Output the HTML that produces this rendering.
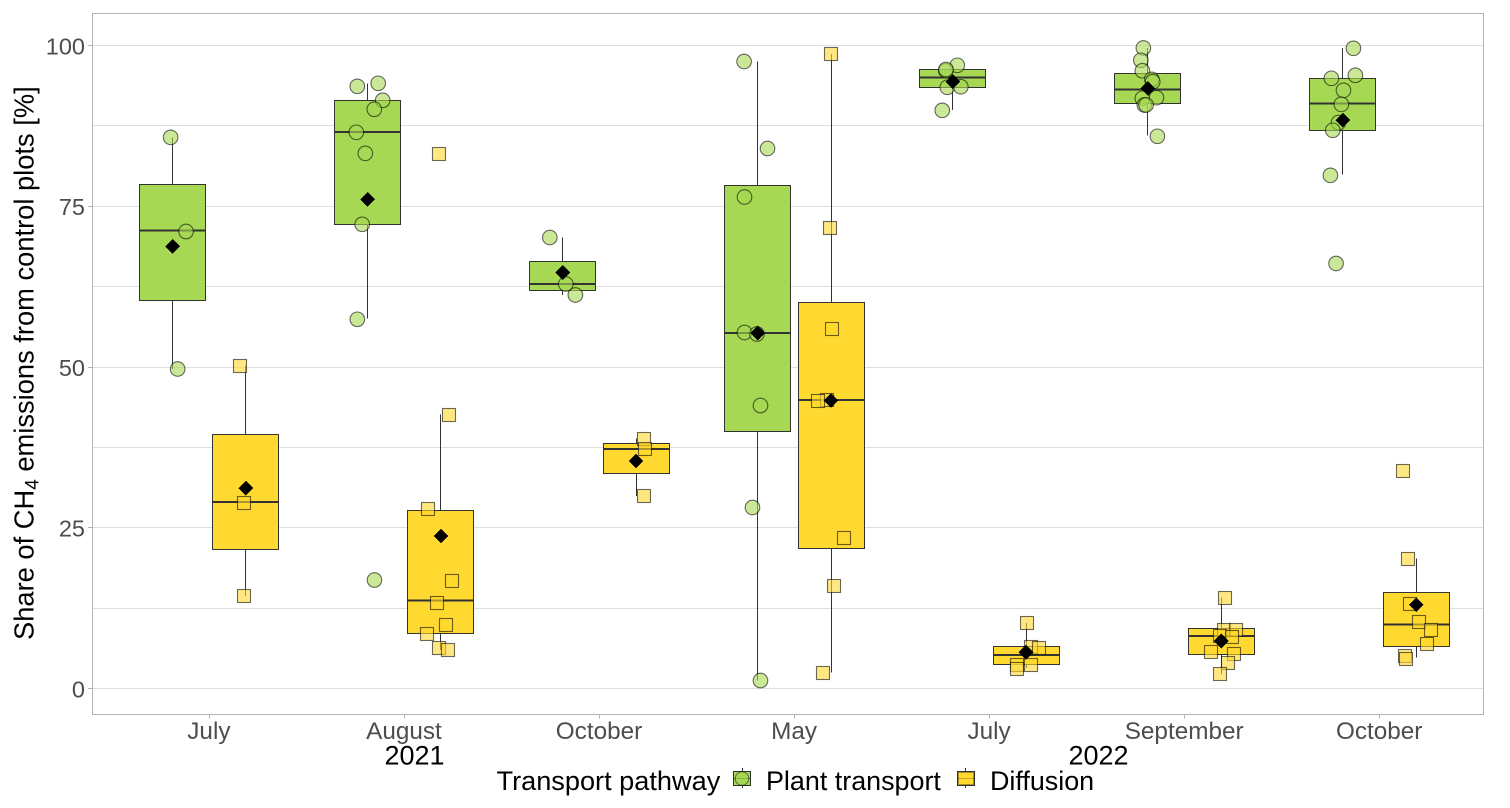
<!DOCTYPE html>
<html>
<head>
<meta charset="utf-8">
<title>Share of CH4 emissions by transport pathway</title>
<style>
html,body{margin:0;padding:0;background:#fff;}
svg{display:block;font-family:"Liberation Sans",Arial,sans-serif;}
</style>
</head>
<body>
<svg id="chart" xmlns="http://www.w3.org/2000/svg" width="1510" height="808" viewBox="0 0 1510 808">
  <rect x="0" y="0" width="1510" height="808" fill="#ffffff"/>
  <g id="grid"></g>
  <g id="marks"></g>
  <rect x="92.5" y="13.5" width="1391" height="701" fill="none" stroke="#b3b3b3" stroke-width="1.3" shape-rendering="crispEdges"/>
  <g id="axes"></g>
  <text transform="translate(33.3,640) rotate(-90)" font-size="27.3" fill="#000">Share of CH<tspan font-size="19" dy="5">4</tspan><tspan dy="-5"> emissions from control plots [%]</tspan></text>
  <text x="414.5" y="764.5" font-size="27" text-anchor="middle" fill="#000">2021</text>
  <text x="1098.5" y="764.5" font-size="27" text-anchor="middle" fill="#000">2022</text>
  <g>
    <text x="496.5" y="790" font-size="27.15" fill="#000">Transport pathway</text>
    <g>
      <line x1="742.5" x2="742.5" y1="768" y2="788" stroke="#333" stroke-width="1.3" shape-rendering="crispEdges"/>
      <rect x="733.5" y="771.5" width="17" height="14" fill="#a6d854" stroke="#333" stroke-width="1.3" shape-rendering="crispEdges"/>
      <line x1="733.5" x2="750.5" y1="778.5" y2="778.5" stroke="#333" stroke-width="1.3" opacity="0.6" shape-rendering="crispEdges"/>
      <circle cx="742" cy="778.5" r="6.8" fill="#a6d854" fill-opacity="0.6" stroke="#000" stroke-opacity="0.5" stroke-width="1"/>
    </g>
    <text x="766" y="790" font-size="26.9" fill="#000">Plant transport</text>
    <g>
      <line x1="965.5" x2="965.5" y1="768" y2="788" stroke="#333" stroke-width="1.3" shape-rendering="crispEdges"/>
      <rect x="957.5" y="771.5" width="17" height="14" fill="#ffd92f" stroke="#333" stroke-width="1.3" shape-rendering="crispEdges"/>
      <line x1="957.5" x2="974.5" y1="778.5" y2="778.5" stroke="#333" stroke-width="1.3" opacity="0.7" shape-rendering="crispEdges"/>
      <rect x="958.5" y="772.5" width="15" height="12" fill="#ffd92f" fill-opacity="0.6" stroke="#000" stroke-opacity="0.35" stroke-width="1" shape-rendering="crispEdges"/>
    </g>
    <text x="990" y="790" font-size="26.9" fill="#000">Diffusion</text>
  </g>
</svg>
<script>
const months = ['July','August','October','May','July','September','October'];
const yMajorTicks = [0,25,50,75,100];
const yMinorTicks = [12.5,37.5,62.5,87.5];

const plantWhiskerLow  = [49.69,57.57,61.20,1.24,90.00,86.00,79.91];
const plantQ1          = [60.37,72.19,61.90,39.97,93.50,91.01,86.81];
const plantMedian      = [71.20,86.55,62.91,55.29,94.99,93.13,90.95];
const plantQ3          = [78.41,91.48,66.41,78.23,96.30,95.67,94.90];
const plantWhiskerHigh = [85.72,94.12,70.14,97.51,96.92,99.61,99.61];
const plantMean        = [68.77,76.08,64.70,55.29,94.37,93.34,88.41];
const plantPoints = [
  [85.72,71.07,49.69],
  [93.65,94.12,91.48,90.08,86.50,83.23,72.19,57.42,16.87],
  [70.14,62.91,61.20],
  [97.51,83.98,76.44,55.37,55.13,44.01,28.15,1.24],
  [89.92,96.92,96.08,96.27,93.50,93.59],
  [99.61,97.70,96.08,94.74,94.37,91.79,91.88,90.75,90.75,85.88],
  [99.56,95.37,94.90,93.03,90.85,88.00,86.81,79.81,66.10]
];
const plantJitter = [
  [-0.010,0.069,0.026],
  [-0.053,0.054,0.077,0.034,-0.058,-0.012,-0.028,-0.053,0.035],
  [-0.066,0.016,0.065],
  [-0.070,0.050,-0.068,-0.068,-0.004,0.014,-0.027,0.014],
  [-0.054,0.023,-0.036,-0.035,-0.028,0.041],
  [-0.023,-0.036,-0.028,0.020,0.025,-0.028,0.044,-0.018,-0.009,0.049],
  [0.054,0.064,-0.059,0.003,-0.008,-0.023,-0.052,-0.064,-0.035]
];

const diffusionWhiskerLow  = [14.39,5.99,29.94,2.49,3.19,2.26,4.79];
const diffusionQ1          = [21.62,8.55,33.44,21.85,3.76,5.32,6.56];
const diffusionMedian      = [29.00,13.69,37.25,44.87,5.21,8.16,9.92];
const diffusionQ3          = [39.58,27.76,38.18,60.03,6.56,9.36,14.90];
const diffusionWhiskerHigh = [50.23,42.61,38.88,98.68,10.19,14.18,20.22];
const diffusionMean        = [31.18,23.72,35.38,44.79,5.63,7.39,13.03];
const diffusionPoints = [
  [50.23,29.00,14.39],
  [83.28,42.61,27.99,16.87,13.45,9.88,8.63,6.45,5.99],
  [38.88,37.25,29.94],
  [98.68,71.77,56.06,45.02,44.76,23.56,16.02,2.49],
  [10.19,6.56,6.41,3.76,3.76,3.08],
  [14.18,9.25,9.25,8.32,8.01,5.83,5.37,3.97,2.26],
  [33.83,20.22,13.25,10.45,9.25,7.03,5.16,4.59]
];
const diffusionJitter = [
  [-0.033,-0.012,-0.012],
  [-0.013,0.038,-0.067,0.054,-0.021,0.021,-0.072,-0.010,0.033],
  [0.041,0.046,0.038],
  [-0.003,-0.010,0.003,-0.021,-0.072,0.064,0.015,-0.046],
  [0.004,0.021,0.062,0.023,-0.051,-0.051],
  [0.019,0.014,0.072,-0.007,0.051,-0.053,0.065,0.031,-0.007],
  [-0.068,-0.043,-0.036,0.014,0.075,0.055,-0.062,-0.053]
];

const NS = 'http://www.w3.org/2000/svg';
const catStep = 195.05;
const xScale = k => 209.2 + catStep * k;
const yScale = v => 688.5 - 6.43 * v;
const snap = p => Math.round(p - 0.5) + 0.5;

function make(parent, tag, attrs) {
  const el = document.createElementNS(NS, tag);
  Object.keys(attrs).forEach(k => el.setAttribute(k, attrs[k]));
  parent.appendChild(el);
  return el;
}

const grid = document.getElementById('grid');
const axes = document.getElementById('axes');
const marks = document.getElementById('marks');

yMinorTicks.forEach(v => {
  const el = make(grid, 'line', {x1:92.5, x2:1483.5, y1:snap(yScale(v)), y2:snap(yScale(v)), stroke:'#dedede', 'stroke-width':1.1, 'shape-rendering':'crispEdges'});
  
  
});
yMajorTicks.forEach(v => {
  const gl = make(grid, 'line', {x1:92.5, x2:1483.5, y1:snap(yScale(v)), y2:snap(yScale(v)), stroke:'#dedede', 'stroke-width':1.3, 'shape-rendering':'crispEdges'});
  
  
  const tk = make(axes, 'line', {x1:88, x2:92.5, y1:snap(yScale(v)), y2:snap(yScale(v)), stroke:'#b3b3b3', 'stroke-width':1.3, 'shape-rendering':'crispEdges'});
  
  
  const tx = make(axes, 'text', {x:85, y:yScale(v) + 8.8, 'text-anchor':'end', 'font-size':23.5, fill:'#4d4d4d'});
  
  
  tx.textContent = v;
});
months.forEach((m, k) => {
  const tk = make(axes, 'line', {x1:snap(xScale(k)), x2:snap(xScale(k)), y1:714.5, y2:718.5, stroke:'#b3b3b3', 'stroke-width':1.3, 'shape-rendering':'crispEdges'});
  
  
  const tx = make(axes, 'text', {x:xScale(k) - 0.3, y:739, 'text-anchor':'middle', 'font-size':24.3, fill:'#4d4d4d'});
  
  
  tx.textContent = m;
});

function drawGroup(k, offset, color, shape, s) {
  const cx = xScale(k) + offset;
  const g = make(marks, 'g', {});
  
  
  const lineX = snap(cx);
  const whisker = make(g, 'line', {x1:lineX, x2:lineX, y1:yScale(s.whHigh[k]), y2:yScale(s.whLow[k]), stroke:'#333333', 'stroke-width':1.3, 'shape-rendering':'crispEdges'});
  
  
  const top = yScale(s.q3[k]);
  const bottom = yScale(s.q1[k]);
  const box = make(g, 'rect', {x:snap(cx - 33), y:snap(top), width:66, height:Math.max(1, snap(bottom) - snap(top)), fill:color, stroke:'#333333', 'stroke-width':1.3, 'shape-rendering':'crispEdges'});
  
  
  const med = make(g, 'line', {x1:snap(cx - 33), x2:snap(cx - 33) + 66, y1:yScale(s.median[k]), y2:yScale(s.median[k]), stroke:'#333333', 'stroke-width':2, 'shape-rendering':'crispEdges'});
  
  
  s.points[k].forEach((v, i) => {
    const px = cx + s.jitter[k][i] * catStep;
    const py = yScale(v);
    let p;
    if (shape === 'circle') {
      p = make(g, 'circle', {cx:px, cy:py, r:7.3, fill:color, 'fill-opacity':0.6, stroke:'#000', 'stroke-opacity':0.58, 'stroke-width':1.1});
    } else {
      p = make(g, 'rect', {x:Math.round(px - 6.5) + 0.5, y:Math.round(py - 6.5) + 0.5, width:13, height:13, fill:color, 'fill-opacity':0.6, stroke:'#000', 'stroke-opacity':0.58, 'stroke-width':1.1});
    }
    
    
  });
  const mx = cx;
  const my = yScale(s.mean[k]);
  const d = make(g, 'polygon', {points:[mx,my-7.4, mx+7.4,my, mx,my+7.4, mx-7.4,my].join(' '), fill:'#000', 'shape-rendering':'crispEdges'});
  
  
}

const plantSeries = {name:'plant', whLow:plantWhiskerLow, q1:plantQ1, median:plantMedian, q3:plantQ3, whHigh:plantWhiskerHigh, mean:plantMean, points:plantPoints, jitter:plantJitter};
const diffusionSeries = {name:'diffusion', whLow:diffusionWhiskerLow, q1:diffusionQ1, median:diffusionMedian, q3:diffusionQ3, whHigh:diffusionWhiskerHigh, mean:diffusionMean, points:diffusionPoints, jitter:diffusionJitter};

months.forEach((m, k) => {
  drawGroup(k, -36.6, '#a6d854', 'circle', plantSeries);
  drawGroup(k, 36.7, '#ffd92f', 'square', diffusionSeries);
});
</script>
</body>
</html>
